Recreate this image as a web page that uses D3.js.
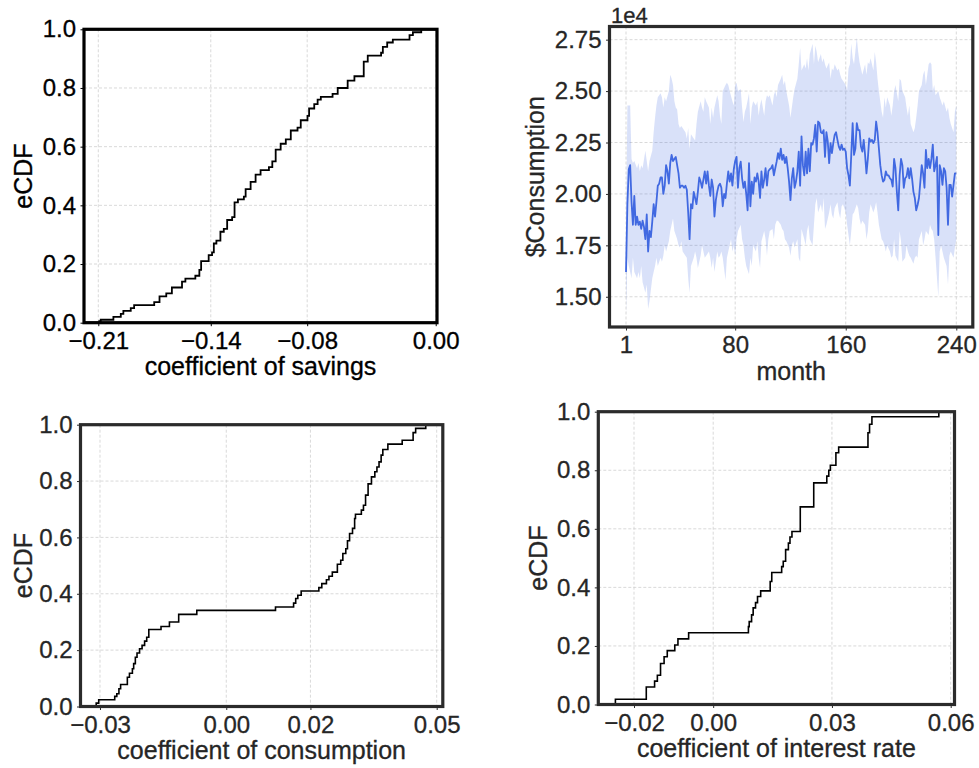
<!DOCTYPE html>
<html>
<head>
<meta charset="utf-8">
<script src="https://cdn.jsdelivr.net/npm/d3@7"></script>
<style>
  body { margin: 0; background: #fff; }
  svg { display: block; }
  text { font-family: "Liberation Sans", Arial, Helvetica, sans-serif; }
</style>
</head>
<body>
<svg id="chart" width="979" height="768"></svg>
<script>
// ---------------- DATA ----------------
const ecdfTicks = [0, 0.2, 0.4, 0.6, 0.8, 1.0];

// Panel 1: eCDF of coefficient of savings — [coefficient, eCDF] step vertices
const savingsTicks = [-0.21, -0.14, -0.08, 0.00];
const savingsEcdf = [[-0.2094,0.005],[-0.2085,0.01],[-0.2006,0.02],[-0.1960,0.03],[-0.1944,0.04],[-0.1898,0.05],[-0.1877,0.06],[-0.1752,0.07],[-0.1719,0.09],[-0.1677,0.10],[-0.1642,0.12],[-0.1579,0.14],[-0.1558,0.15],[-0.1496,0.16],[-0.1471,0.18],[-0.1460,0.21],[-0.1413,0.23],[-0.1392,0.24],[-0.1381,0.27],[-0.1365,0.28],[-0.1340,0.31],[-0.1319,0.32],[-0.1298,0.35],[-0.1267,0.36],[-0.1252,0.41],[-0.1231,0.42],[-0.1194,0.43],[-0.1183,0.455],[-0.1152,0.48],[-0.1121,0.505],[-0.1090,0.52],[-0.1038,0.53],[-0.1017,0.55],[-0.0996,0.59],[-0.0965,0.61],[-0.0933,0.625],[-0.0902,0.655],[-0.0860,0.665],[-0.0840,0.69],[-0.0798,0.705],[-0.0788,0.73],[-0.0756,0.745],[-0.0735,0.76],[-0.0715,0.77],[-0.0642,0.78],[-0.0610,0.80],[-0.0548,0.825],[-0.0506,0.84],[-0.0448,0.89],[-0.0423,0.91],[-0.0340,0.92],[-0.0329,0.94],[-0.0302,0.955],[-0.0267,0.965],[-0.0163,0.98],[-0.0142,0.99],[-0.0090,1.0]];

// Panel 2: monthly consumption (units of 1e4 $), mean and band
const monthTicks = [1, 80, 160, 240];
const consumptionTicks = [1.50, 1.75, 2.00, 2.25, 2.50, 2.75];
const consumptionMean = [
1.62,1.95,2.12,2.14,1.96,1.85,1.99,1.85,1.89,1.85,
1.865,1.83,1.87,1.84,1.78,1.90,1.72,1.82,1.79,1.865,
1.95,1.89,1.96,2.04,2.05,2.08,2.08,2.00,2.04,2.14,
2.11,2.05,2.15,2.19,2.16,2.17,2.18,2.14,2.10,2.03,
2.04,2.04,2.03,2.04,2.02,1.91,1.78,1.95,1.93,2.01,
1.98,1.95,2.01,2.08,2.06,2.03,2.07,2.11,2.05,2.11,
2.04,1.99,2.07,2.03,1.89,1.97,2.01,2.04,2.05,2.03,
1.94,2.00,1.98,2.05,2.11,2.06,2.10,2.04,2.12,2.16,
2.18,2.03,2.125,2.157,2.076,2.03,2.06,2.00,1.92,2.15,
1.94,2.06,2.00,2.08,2.06,2.10,2.06,1.98,2.11,2.03,
2.07,2.125,2.04,2.11,2.12,2.125,2.14,2.09,2.125,2.157,
2.198,2.17,2.22,2.166,2.19,2.15,2.18,2.125,2.06,1.97,
2.076,2.125,2.03,2.06,2.11,2.206,2.04,2.28,2.14,2.09,
2.206,2.10,2.22,2.11,2.247,2.24,2.27,2.336,2.206,2.352,
2.344,2.30,2.295,2.31,2.18,2.30,2.255,2.15,2.247,2.198,
2.247,2.287,2.30,2.263,2.23,2.214,2.24,2.214,2.22,2.206,
2.125,2.09,2.04,2.19,2.344,2.19,2.22,2.344,2.31,2.31,
2.23,2.206,2.263,2.19,2.10,2.17,2.27,2.255,2.263,2.247,
2.263,2.352,2.30,2.22,2.14,2.09,2.06,2.068,2.11,2.09,
2.09,2.076,2.068,2.036,2.17,2.125,2.01,1.92,2.09,2.17,
2.14,2.03,2.076,2.084,2.125,2.076,2.125,2.076,2.01,1.98,
1.92,1.946,1.98,2.06,2.14,2.10,2.03,2.214,2.125,2.17,
2.125,2.17,2.24,2.11,2.14,2.18,1.80,2.14,2.11,2.044,
2.125,2.11,2.03,1.85,2.044,2.044,1.987,2.044,2.10,2.10];
// [month, value] upper and lower edges of the shaded band
const bandUpper = [[1,1.85],[2,2.43],[3,2.43],[4,2.43],[5,2.17],[6,2.15],[7,2.16],[9,2.125],[10,2.15],[11,2.11],[12,2.14],[13,2.125],[15,2.21],[16,2.16],[17,2.11],[18,2.16],[20,2.21],[21,2.30],[22,2.37],[23,2.43],[24,2.47],[26,2.49],[27,2.47],[28,2.42],[29,2.47],[30,2.45],[32,2.50],[33,2.58],[34,2.56],[35,2.53],[36,2.45],[37,2.42],[38,2.41],[39,2.34],[40,2.32],[41,2.33],[42,2.32],[44,2.30],[45,2.27],[46,2.32],[47,2.22],[48,2.29],[50,2.27],[51,2.26],[52,2.34],[53,2.40],[55,2.45],[56,2.42],[57,2.40],[58,2.47],[59,2.45],[61,2.42],[62,2.34],[63,2.42],[64,2.37],[65,2.42],[67,2.48],[68,2.45],[69,2.38],[70,2.34],[71,2.50],[73,2.53],[74,2.54],[75,2.53],[76,2.50],[78,2.45],[79,2.43],[80,2.53],[81,2.54],[82,2.50],[84,2.51],[85,2.42],[86,2.35],[87,2.40],[88,2.42],[90,2.49],[91,2.34],[92,2.42],[93,2.45],[95,2.43],[96,2.45],[97,2.38],[98,2.43],[99,2.46],[101,2.38],[102,2.45],[103,2.48],[104,2.47],[105,2.48],[107,2.43],[108,2.48],[109,2.50],[110,2.47],[111,2.53],[113,2.56],[114,2.58],[115,2.53],[116,2.55],[117,2.50],[119,2.43],[120,2.37],[121,2.42],[122,2.47],[123,2.51],[125,2.56],[126,2.63],[127,2.71],[128,2.60],[130,2.63],[131,2.61],[132,2.66],[133,2.60],[134,2.68],[136,2.73],[137,2.63],[138,2.72],[139,2.69],[140,2.64],[142,2.68],[143,2.64],[144,2.66],[145,2.63],[146,2.61],[148,2.64],[149,2.56],[150,2.61],[151,2.60],[152,2.63],[154,2.60],[155,2.61],[156,2.58],[157,2.56],[158,2.55],[160,2.53],[161,2.50],[162,2.61],[163,2.63],[164,2.73],[165,2.66],[166,2.63],[168,2.76],[169,2.69],[170,2.64],[171,2.61],[172,2.58],[174,2.63],[175,2.58],[176,2.64],[177,2.63],[178,2.66],[180,2.60],[181,2.69],[182,2.64],[183,2.56],[184,2.50],[186,2.40],[187,2.37],[188,2.47],[189,2.42],[190,2.47],[192,2.43],[193,2.38],[194,2.43],[195,2.50],[196,2.53],[198,2.45],[199,2.56],[200,2.55],[201,2.50],[203,2.47],[204,2.42],[205,2.38],[206,2.43],[207,2.34],[209,2.30],[210,2.32],[211,2.37],[212,2.43],[213,2.50],[215,2.53],[216,2.58],[217,2.60],[218,2.53],[220,2.63],[221,2.64],[222,2.63],[223,2.50],[224,2.53],[225,2.48],[227,2.50],[228,2.47],[229,2.45],[230,2.43],[231,2.45],[233,2.40],[234,2.42],[235,2.37],[236,2.34],[238,2.30],[239,2.40],[240,2.43]];
const bandLower = [[1,1.41],[2,1.69],[3,1.65],[4,1.62],[5,1.59],[6,1.69],[7,1.62],[9,1.59],[10,1.62],[11,1.59],[12,1.65],[13,1.57],[15,1.52],[16,1.56],[17,1.44],[18,1.48],[20,1.59],[21,1.62],[22,1.65],[23,1.69],[24,1.65],[26,1.69],[27,1.67],[28,1.70],[29,1.75],[30,1.72],[32,1.77],[33,1.82],[34,1.85],[35,1.88],[36,1.82],[37,1.80],[38,1.78],[39,1.75],[40,1.74],[41,1.77],[42,1.72],[44,1.70],[45,1.69],[46,1.59],[47,1.52],[48,1.65],[50,1.69],[51,1.72],[52,1.69],[53,1.64],[55,1.70],[56,1.75],[57,1.72],[58,1.69],[59,1.70],[61,1.72],[62,1.69],[63,1.64],[64,1.69],[65,1.62],[67,1.72],[68,1.69],[69,1.70],[70,1.72],[71,1.69],[73,1.58],[74,1.69],[75,1.72],[76,1.75],[77,1.78],[78,1.72],[79,1.75],[80,1.70],[81,1.78],[82,1.82],[84,1.85],[85,1.78],[86,1.75],[87,1.69],[88,1.65],[90,1.61],[91,1.69],[92,1.65],[93,1.75],[95,1.72],[96,1.77],[97,1.69],[98,1.64],[99,1.77],[101,1.82],[102,1.78],[103,1.70],[104,1.78],[105,1.82],[107,1.83],[108,1.78],[109,1.85],[110,1.87],[111,1.87],[113,1.85],[114,1.83],[115,1.82],[116,1.78],[117,1.77],[119,1.74],[120,1.70],[121,1.75],[122,1.77],[123,1.74],[125,1.78],[126,1.69],[127,1.67],[128,1.83],[130,1.78],[131,1.75],[132,1.82],[133,1.85],[134,1.78],[136,1.75],[137,1.85],[138,1.95],[139,1.98],[140,1.91],[142,1.95],[143,1.91],[144,1.98],[145,1.83],[146,1.85],[148,1.91],[149,1.95],[150,1.90],[151,1.88],[152,1.93],[154,1.96],[155,1.91],[156,1.88],[157,1.94],[158,1.95],[160,1.91],[161,1.85],[162,1.80],[163,1.75],[164,1.82],[165,1.90],[166,1.91],[168,1.95],[169,1.93],[170,1.88],[171,1.85],[172,1.87],[174,1.85],[175,1.78],[176,1.82],[177,1.91],[178,1.95],[180,1.91],[181,1.93],[182,1.96],[183,1.91],[184,1.85],[186,1.78],[187,1.77],[188,1.75],[189,1.72],[190,1.75],[192,1.72],[193,1.69],[194,1.70],[195,1.78],[196,1.70],[198,1.67],[199,1.82],[200,1.77],[201,1.67],[203,1.69],[204,1.75],[205,1.72],[206,1.70],[207,1.69],[209,1.66],[210,1.69],[211,1.70],[212,1.69],[213,1.78],[215,1.82],[216,1.75],[217,1.78],[218,1.82],[220,1.80],[221,1.85],[222,1.83],[223,1.82],[224,1.78],[225,1.69],[227,1.50],[228,1.72],[229,1.75],[230,1.72],[231,1.69],[233,1.65],[234,1.56],[235,1.70],[236,1.72],[238,1.69],[239,1.74],[240,1.78]];

// Panel 3: eCDF of coefficient of consumption
const consumptionCoefTicks = [-0.03, 0.00, 0.02, 0.05];
const consumptionEcdf = [[-0.0309,0.012],[-0.0303,0.024],[-0.0265,0.036],[-0.0260,0.045],[-0.0255,0.063],[-0.0251,0.078],[-0.0235,0.104],[-0.0230,0.118],[-0.0223,0.134],[-0.0220,0.152],[-0.0216,0.175],[-0.0212,0.19],[-0.0206,0.205],[-0.0200,0.217],[-0.0194,0.232],[-0.0189,0.246],[-0.0184,0.273],[-0.0155,0.284],[-0.0135,0.30],[-0.0113,0.327],[-0.0070,0.341],[0.0117,0.353],[0.0160,0.367],[0.0165,0.383],[0.0170,0.395],[0.0178,0.41],[0.0220,0.422],[0.0227,0.436],[0.0238,0.45],[0.0244,0.462],[0.0252,0.477],[0.0264,0.505],[0.0272,0.519],[0.0277,0.543],[0.0284,0.56],[0.0288,0.588],[0.0293,0.614],[0.0300,0.632],[0.0305,0.667],[0.0307,0.682],[0.0321,0.697],[0.0326,0.714],[0.0331,0.75],[0.0337,0.79],[0.0345,0.815],[0.0353,0.833],[0.0358,0.85],[0.0363,0.868],[0.0368,0.892],[0.0372,0.912],[0.0384,0.931],[0.0418,0.945],[0.0444,0.972],[0.0450,0.987],[0.0474,1.0]];

// Panel 4: eCDF of coefficient of interest rate
const interestTicks = [-0.02, 0.00, 0.03, 0.06];
const interestEcdf = [[-0.0247,0.018],[-0.0169,0.06],[-0.0148,0.08],[-0.0141,0.10],[-0.0133,0.14],[-0.0124,0.163],[-0.0116,0.184],[-0.0097,0.203],[-0.0089,0.224],[-0.0062,0.245],[0.0089,0.266],[0.0091,0.283],[0.0097,0.306],[0.0101,0.33],[0.0107,0.348],[0.0112,0.369],[0.0120,0.388],[0.0144,0.42],[0.0148,0.451],[0.0173,0.471],[0.0177,0.489],[0.0183,0.529],[0.0190,0.551],[0.0194,0.572],[0.0199,0.591],[0.0220,0.675],[0.0254,0.757],[0.0287,0.78],[0.0292,0.80],[0.0296,0.817],[0.0310,0.86],[0.0317,0.879],[0.0391,0.928],[0.0395,0.957],[0.0401,0.983],[0.0570,1.0]];

// ---------------- DRAWING ----------------
const svg = d3.select("#chart");
const TICK_FS = 24, TITLE_FS = 25;

function makePanel(o) {
  const x = d3.scaleLinear().domain(o.xDomain).range([o.left, o.right]);
  const y = d3.scaleLinear().domain(o.yDomain).range([o.bottom, o.top]);
  const g = svg.append("g");
  const grid = g.append("g").attr("stroke", "#cfcfcf").attr("stroke-width", 0.8)
    .attr("stroke-dasharray", "3,2");
  grid.selectAll(".gx").data(o.xTicks).join("line")
    .attr("x1", d => x(d)).attr("x2", d => x(d)).attr("y1", o.top).attr("y2", o.bottom);
  grid.selectAll(".gy").data(o.yTicks).join("line")
    .attr("y1", d => y(d)).attr("y2", d => y(d)).attr("x1", o.left).attr("x2", o.right);
  const content = g.append("g");
  return { x, y, g, content, o };
}

function styleText(sel, color) {
  sel.attr("fill", color).attr("stroke", color).attr("stroke-width", 0.3);
}

function finishPanel(p) {
  const { x, y, g, o } = p;
  g.append("rect").attr("x", o.left).attr("y", o.top)
    .attr("width", o.right - o.left).attr("height", o.bottom - o.top)
    .attr("fill", "none").attr("stroke", o.frame).attr("stroke-width", 3.2);
  const ax = g.append("g").attr("transform", `translate(0,${o.bottom})`)
    .call(d3.axisBottom(x).tickValues(o.xTicks).tickFormat(o.xFmt).tickSize(3.5).tickPadding(5.5));
  const ay = g.append("g").attr("transform", `translate(${o.left},0)`)
    .call(d3.axisLeft(y).tickValues(o.yTicks).tickFormat(o.yFmt).tickSize(3.5).tickPadding(4.5));
  [ax, ay].forEach(a => {
    a.select(".domain").remove();
    a.selectAll(".tick line").attr("stroke", o.frame).attr("stroke-width", 1);
    const t = a.selectAll(".tick text").style("font-size", TICK_FS + "px")
      .style("font-family", '"Liberation Sans", Arial, sans-serif');
    styleText(t, o.ink);
  });
  styleText(g.append("text").attr("x", (o.left + o.right) / 2).attr("y", o.bottom + 52.5)
    .attr("text-anchor", "middle").style("font-size", TITLE_FS + "px")
    .text(o.xLabel), o.ink);
  styleText(g.append("text")
    .attr("transform", `translate(${o.yLabelX},${(o.top + o.bottom) / 2}) rotate(-90)`)
    .attr("text-anchor", "middle").style("font-size", TITLE_FS + "px")
    .text(o.yLabel), o.ink);
}

function drawEcdf(p, data, w) {
  const pts = [[p.x.domain()[0], 0]].concat(data);
  p.content.append("path")
    .attr("d", d3.line().x(d => p.x(d[0])).y(d => p.y(d[1])).curve(d3.curveStepAfter)(pts))
    .attr("fill", "none").attr("stroke", "#000").attr("stroke-width", w);
}

const f2 = d3.format(".2f"), f1 = d3.format(".1f");

// Panel 1
const p1 = makePanel({
  left: 84, right: 437, top: 29.3, bottom: 322.7,
  xDomain: [-0.2189, 0.0008], yDomain: [0, 1],
  xTicks: savingsTicks, yTicks: ecdfTicks, xFmt: f2, yFmt: f1,
  ink: "#000", frame: "#000",
  xLabel: "coefficient of savings", yLabel: "eCDF", yLabelX: 32
});
drawEcdf(p1, savingsEcdf, 1.8);
finishPanel(p1);

// Panel 2
const p2 = makePanel({
  left: 609.5, right: 972.8, top: 26.5, bottom: 327,
  xDomain: [-10.95, 251.95], yDomain: [1.353, 2.814],
  xTicks: monthTicks, yTicks: consumptionTicks, xFmt: d3.format("d"), yFmt: f2,
  ink: "#262626", frame: "#2b2b2b",
  xLabel: "month", yLabel: "$Consumption", yLabelX: 544
});
const bandPts = bandUpper.concat(bandLower.slice().reverse());
p2.content.append("path")
  .attr("d", d3.line().x(d => p2.x(d[0])).y(d => p2.y(d[1]))(bandPts) + "Z")
  .attr("fill", "#4169e1").attr("fill-opacity", 0.2).attr("stroke", "none");
p2.content.append("path")
  .attr("d", d3.line().x((d, i) => p2.x(i + 1)).y(d => p2.y(d))(consumptionMean))
  .attr("fill", "none").attr("stroke", "#4169e1").attr("stroke-width", 1.8)
  .attr("stroke-linejoin", "round");
finishPanel(p2);
styleText(p2.g.append("text").attr("x", 611).attr("y", 23)
  .style("font-size", "22px").text("1e4"), "#262626");

// Panel 3
const p3 = makePanel({
  left: 80.5, right: 442.8, top: 424.7, bottom: 706.5,
  xDomain: [-0.03463, 0.05145], yDomain: [0, 1],
  xTicks: consumptionCoefTicks, yTicks: ecdfTicks, xFmt: f2, yFmt: f1,
  ink: "#262626", frame: "#2b2b2b",
  xLabel: "coefficient of consumption", yLabel: "eCDF", yLabelX: 32
});
drawEcdf(p3, consumptionEcdf, 1.6);
finishPanel(p3);

// Panel 4
const p4 = makePanel({
  left: 598.3, right: 954.5, top: 411.7, bottom: 704.5,
  xDomain: [-0.02902, 0.06096], yDomain: [0, 1],
  xTicks: interestTicks, yTicks: ecdfTicks, xFmt: f2, yFmt: f1,
  ink: "#262626", frame: "#2b2b2b",
  xLabel: "coefficient of interest rate", yLabel: "eCDF", yLabelX: 547
});
drawEcdf(p4, interestEcdf, 1.6);
finishPanel(p4);
</script>
</body>
</html>
